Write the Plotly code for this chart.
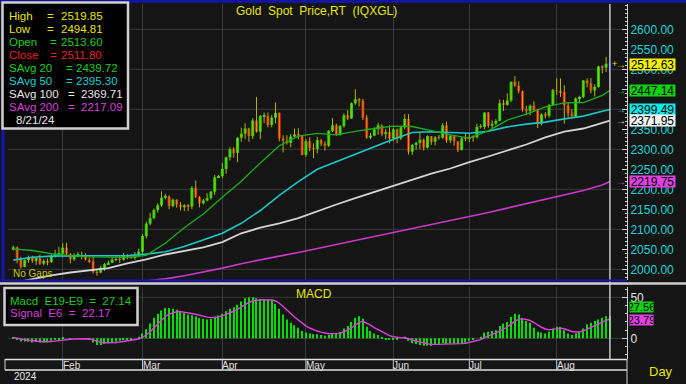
import plotly.graph_objects as go
import pandas as pd

# ---------------- data ----------------
dates = pd.bdate_range("2024-01-15", "2024-08-21").strftime("%Y-%m-%d").tolist()

opens = [2049, 2055, 2028, 2006, 2023, 2029, 2021, 2029, 2014, 2021, 2018, 2033, 2037,
         2039, 2054, 2039, 2025, 2035, 2035, 2034, 2024, 2020, 1993, 1992, 2004, 2013, 2017, 2024, 2025, 2024, 2035, 2031, 2030, 2034,
         2044, 2083, 2114, 2128, 2148, 2160, 2179, 2182, 2158, 2174, 2162, 2155, 2160, 2157, 2203, 2181, 2165, 2172, 2178, 2194, 2230,
         2233, 2251, 2280, 2300, 2291, 2329, 2339, 2352, 2333, 2372, 2344, 2383, 2383, 2361, 2379, 2391, 2327, 2322, 2316, 2332, 2337, 2335,
         2286, 2320, 2303, 2301, 2323, 2314, 2309, 2346, 2360, 2336, 2358, 2385, 2377, 2415, 2425, 2421, 2379, 2329, 2334, 2350, 2360, 2338, 2343,
         2327, 2350, 2327, 2355, 2376, 2294, 2311, 2316, 2324, 2304, 2333, 2319, 2330, 2329, 2360, 2322, 2334, 2320, 2298, 2327,
         2326, 2331, 2330, 2356, 2356, 2392, 2359, 2364, 2371, 2415, 2411, 2422, 2469, 2459, 2445, 2400, 2396, 2409, 2398, 2364, 2387, 2384, 2411,
         2448, 2446, 2443, 2410, 2390, 2382, 2427, 2431, 2472, 2465, 2447, 2456, 2507, 2504, 2513.60]
closes = [2055, 2028, 2006, 2023, 2029, 2021, 2029, 2014, 2021, 2018, 2033, 2037, 2039,
          2054, 2039, 2025, 2035, 2035, 2034, 2024, 2020, 1993, 1992, 2004, 2013, 2017, 2024, 2025, 2024, 2035, 2031, 2030, 2034, 2044,
          2083, 2114, 2128, 2148, 2160, 2179, 2182, 2158, 2174, 2162, 2155, 2160, 2157, 2203, 2181, 2165, 2172, 2178, 2194, 2230, 2233,
          2251, 2280, 2300, 2291, 2329, 2339, 2352, 2333, 2372, 2344, 2383, 2383, 2361, 2379, 2391, 2327, 2322, 2316, 2332, 2337, 2335, 2286,
          2320, 2303, 2301, 2323, 2314, 2309, 2346, 2360, 2336, 2358, 2385, 2377, 2415, 2425, 2421, 2379, 2329, 2334, 2350, 2360, 2338, 2343, 2327,
          2350, 2327, 2355, 2376, 2294, 2311, 2316, 2324, 2304, 2333, 2319, 2330, 2329, 2360, 2322, 2334, 2320, 2298, 2327, 2326,
          2331, 2330, 2356, 2356, 2392, 2359, 2364, 2371, 2415, 2411, 2422, 2469, 2459, 2445, 2400, 2396, 2409, 2398, 2364, 2387, 2384, 2411, 2448,
          2446, 2443, 2410, 2390, 2382, 2427, 2431, 2472, 2465, 2447, 2456, 2507, 2504, 2514, 2511.80]
highs = [2059, 2057, 2031, 2025, 2034, 2034, 2031, 2037, 2025, 2027, 2038, 2049, 2056,
         2065, 2066, 2040, 2040, 2043, 2044, 2040, 2029, 2031, 1999, 2009, 2016, 2022, 2031, 2033, 2034, 2041, 2038, 2038, 2043, 2052,
         2088, 2119, 2141, 2152, 2165, 2195, 2189, 2185, 2177, 2175, 2168, 2163, 2163, 2208, 2222, 2183, 2176, 2190, 2196, 2236, 2236,
         2266, 2282, 2305, 2305, 2330, 2354, 2365, 2354, 2378, 2431, 2386, 2392, 2392, 2386, 2417, 2392, 2335, 2335, 2338, 2352, 2353, 2336,
         2326, 2330, 2315, 2331, 2326, 2320, 2348, 2378, 2364, 2361, 2390, 2398, 2417, 2450, 2428, 2426, 2386, 2341, 2355, 2366, 2362, 2351, 2360,
         2354, 2352, 2358, 2388, 2388, 2313, 2319, 2342, 2327, 2335, 2333, 2333, 2336, 2366, 2369, 2336, 2336, 2320, 2331, 2340,
         2339, 2335, 2364, 2363, 2392, 2393, 2372, 2376, 2424, 2424, 2440, 2469, 2483, 2470, 2447, 2409, 2412, 2420, 2400, 2390, 2393, 2413, 2451,
         2477, 2477, 2460, 2418, 2400, 2430, 2434, 2473, 2477, 2478, 2462, 2509, 2510, 2531, 2519.85]
lows = [2047, 2015, 2002, 2005, 2016, 2016, 2011, 2011, 2010, 2010, 2016, 2030, 2034,
        2030, 2031, 2015, 2021, 2030, 2025, 2022, 2016, 1990, 1984, 1990, 1996, 2012, 2015, 2020, 2016, 2022, 2025, 2026, 2024, 2030,
        2039, 2077, 2110, 2125, 2142, 2156, 2175, 2150, 2155, 2154, 2147, 2146, 2145, 2150, 2178, 2155, 2162, 2170, 2175, 2186, 2228,
        2228, 2239, 2272, 2279, 2268, 2319, 2326, 2319, 2326, 2342, 2325, 2365, 2355, 2355, 2365, 2320, 2292, 2312, 2305, 2330, 2325, 2285,
        2281, 2295, 2278, 2290, 2308, 2297, 2306, 2343, 2333, 2334, 2354, 2373, 2376, 2411, 2407, 2373, 2326, 2325, 2333, 2336, 2333, 2325, 2315,
        2320, 2315, 2323, 2350, 2287, 2286, 2299, 2300, 2297, 2302, 2311, 2310, 2324, 2326, 2316, 2316, 2309, 2293, 2297, 2320,
        2318, 2319, 2327, 2352, 2350, 2354, 2353, 2360, 2370, 2396, 2409, 2418, 2456, 2440, 2394, 2385, 2385, 2394, 2353, 2360, 2377, 2379, 2408,
        2436, 2431, 2364, 2380, 2382, 2380, 2415, 2428, 2455, 2440, 2432, 2454, 2490, 2493, 2494.81]

# moving averages, read at sample days
ma_idx = [0, 5, 10, 15, 20, 25, 30, 35, 40, 45, 50, 55, 60, 65, 70, 75, 80, 85, 90, 95,
          100, 105, 110, 115, 120, 125, 130, 135, 140, 145, 150, 155, 157]
sma20 = [2051, 2047, 2039, 2034, 2031, 2030, 2030, 2035, 2065, 2104, 2138, 2180, 2220, 2266, 2309, 2333, 2340, 2336, 2345, 2352,
         2358, 2357, 2346, 2336, 2328, 2346, 2373, 2388, 2406, 2416, 2417, 2435, 2447.14]
sma50 = [2023, 2030, 2033, 2034, 2034, 2034, 2034, 2038, 2044, 2057, 2073, 2090, 2115, 2147, 2185, 2219, 2250, 2269, 2288, 2306,
         2325, 2342, 2344, 2342, 2340, 2345, 2356, 2363, 2368, 2376, 2383, 2395, 2399.49]
sma100 = [1966, 1976, 1985, 1992, 1998, 2003, 2015, 2025, 2037, 2046, 2055, 2068, 2090, 2104, 2115, 2128, 2146, 2162, 2178, 2193,
          2208, 2224, 2239, 2252, 2268, 2282, 2297, 2312, 2330, 2344, 2352, 2365, 2371.95]
ma200_idx = [35, 40, 45, 50, 55, 60, 65, 70, 75, 80, 85, 90, 95, 100, 105, 110, 115, 120, 125, 130, 135, 140, 145, 150, 155, 157]
sma200 = [1971, 1976, 1984, 1993, 2003, 2014, 2024, 2033, 2042, 2052, 2062, 2072, 2082, 2092, 2101, 2111, 2121, 2131, 2142, 2153,
          2164, 2175, 2186, 2197, 2211, 2219.75]

macd = [1, -1, -4, -4, -4, -5, -4, -5, -5, -5, -3, -2, -1,
        1, 0, -1, 0, 0, 0, 0, -1, -5, -8, -8, -7, -6, -5, -4, -3, -2, -2, -1, 0, 2,
        6, 11, 18, 25, 30, 34, 37, 37, 36, 35, 33, 31, 29, 28, 27, 25, 24, 23, 24, 26, 28,
        30, 33, 36, 38, 41, 45, 49, 50, 50, 49, 48, 48, 47, 46, 42, 36, 29, 23, 19, 16, 13, 9,
        7, 6, 5, 5, 4, 3, 4, 6, 6, 8, 12, 15, 20, 25, 27, 24, 14, 9, 6, 4, 1, -1, -2,
        -1, -2, 0, 2, -3, -6, -7, -8, -9, -9, -9, -8, -7, -6, -7, -6, -6, -7, -6, -5,
        -3, -2, 0, 2, 7, 8, 9, 10, 15, 18, 20, 26, 30, 29, 25, 21, 19, 13, 8, 7, 6, 8, 12,
        14, 14, 10, 6, 4, 6, 8, 12, 17, 19, 21, 23, 25, 27, 27.56]
signal = [1.0, 0.4, -0.8, -1.7, -2.4, -3.1, -3.4, -3.8, -4.2, -4.4, -4.0, -3.4, -2.7,
          -1.7, -1.2, -1.1, -0.8, -0.6, -0.4, -0.3, -0.5, -1.8, -3.6, -4.8, -5.5, -5.6, -5.4, -5.0, -4.4, -3.7, -3.2, -2.6, -1.9, -0.8,
          1.2, 4.0, 8.0, 12.9, 17.8, 22.4, 26.6, 29.5, 31.4, 32.4, 32.6, 32.1, 31.2, 30.3, 29.4, 28.1, 26.9, 25.8, 25.3, 25.5, 26.2,
          27.3, 28.9, 30.9, 33.0, 35.3, 38.0, 41.2, 43.7, 45.5, 46.5, 46.9, 47.2, 47.2, 46.8, 45.5, 42.8, 38.8, 34.3, 29.9, 26.0, 22.3, 18.5,
          15.2, 12.6, 10.4, 8.9, 7.5, 6.2, 5.6, 5.7, 5.8, 6.4, 8.0, 10.0, 12.9, 16.3, 19.4, 20.7, 18.8, 16.0, 13.1, 10.5, 7.8, 5.3, 3.2,
          2.0, 0.9, 0.6, 1.0, -0.1, -1.8, -3.3, -4.6, -5.9, -6.8, -7.4, -7.6, -7.4, -7.0, -7.0, -6.7, -6.5, -6.6, -6.4, -6.0,
          -5.1, -4.2, -3.0, -1.6, 0.9, 2.9, 4.7, 6.2, 8.7, 11.4, 13.8, 17.3, 20.9, 23.2, 23.7, 22.9, 21.8, 19.3, 16.1, 13.5, 11.4, 10.4, 10.9,
          11.8, 12.4, 11.7, 10.1, 8.3, 7.7, 7.8, 9.0, 11.3, 13.5, 15.6, 17.7, 19.8, 21.9, 23.5]

month_names = ["Feb", "Mar", "Apr", "May", "Jun", "Jul", "Aug"]
month_starts = ["2024-02-01", "2024-03-01", "2024-04-01", "2024-05-01", "2024-06-03", "2024-07-01", "2024-08-01"]
price_ticks = [2000, 2050, 2100, 2150, 2200, 2250, 2300, 2350, 2400, 2450, 2500, 2550, 2600]
price_grid = [2000, 2100, 2200, 2300, 2400, 2500, 2600]

# ---------------- style ----------------
FONT = "Liberation Sans, Arial, sans-serif"
BG = "#151515"
GRID = "#3a3a3a"
W, H = 686, 384
L, R, T, B = 8, 59, 4, 25
PW, PH = W - L - R, H - T - B


def px(p):
    return (p - L) / PW


def py(p):
    return (H - B - p) / PH


ma_dates = [dates[i] for i in ma_idx]
ma200_dates = [dates[i] for i in ma200_idx]

fig = go.Figure()

# wicks
wx, wy = [], []
for d, h, l in zip(dates[:-1], highs[:-1], lows[:-1]):
    wx += [d, d, None]
    wy += [l, h, None]
fig.add_trace(go.Scatter(x=wx, y=wy, mode="lines", line=dict(color="#b4b400", width=1),
                         hoverinfo="skip", yaxis="y"))
fig.add_trace(go.Scatter(x=[dates[-1], dates[-1]], y=[lows[-1], highs[-1]], mode="lines",
                         line=dict(color="#1818d8", width=2.5), hoverinfo="skip", yaxis="y"))

body_base = [min(o, c) for o, c in zip(opens, closes)]
body_h = [max(abs(c - o), 1.2) for o, c in zip(opens, closes)]
body_col = ["#00e000" if c >= o else "#e81818" for o, c in zip(opens, closes)]
body_col[-1] = "#1818d8"
fig.add_trace(go.Bar(x=dates, y=body_h, base=body_base, width=0.78,
                     marker=dict(color=body_col, line=dict(width=0)), yaxis="y"))

fig.add_trace(go.Scatter(x=ma200_dates, y=sma200, mode="lines", line=dict(color="#c838c8", width=1.6), yaxis="y"))
fig.add_trace(go.Scatter(x=ma_dates, y=sma100, mode="lines", line=dict(color="#d4d4d4", width=1.8), yaxis="y"))
fig.add_trace(go.Scatter(x=ma_dates, y=sma50, mode="lines", line=dict(color="#18c8c8", width=1.6), yaxis="y"))
fig.add_trace(go.Scatter(x=ma_dates, y=sma20, mode="lines", line=dict(color="#18b018", width=1.3), yaxis="y"))

# MACD panel
fig.add_trace(go.Bar(x=dates, y=macd, width=0.28, marker=dict(color="#00e000", line=dict(width=0)), yaxis="y2"))
fig.add_trace(go.Scatter(x=dates, y=signal, mode="lines", line=dict(color="#e040e0", width=1.4), yaxis="y2"))

fig.update_layout(
    width=W, height=H, margin=dict(l=L, r=R, t=T, b=B),
    paper_bgcolor=BG, plot_bgcolor=BG, showlegend=False, barmode="overlay",
    font=dict(family=FONT, size=12, color="#e0e0e0"),
    xaxis=dict(type="category", categoryorder="array", categoryarray=dates, range=[-1.4, 161.5],
               tickvals=month_starts, showticklabels=False, ticks="", showgrid=True,
               gridcolor=GRID, gridwidth=1, anchor="y2", zeroline=False, showline=False),
    yaxis=dict(domain=[py(280), 1], range=[1973.25, 2663.25], side="right", tickvals=price_ticks,
               tickformat=".2f", tickfont=dict(color="#1cd4d4", size=12, family=FONT),
               ticks="inside", ticklen=5, tickcolor="#d0d0d0", showline=True, linecolor="#d0d0d0",
               linewidth=1, showgrid=False, zeroline=False,
               minor=dict(dtick=10, ticks="inside", ticklen=2, tickcolor="#d0d0d0", showgrid=False)),
    yaxis2=dict(domain=[0, py(287)], range=[-25.2, 62.6], side="right", tickvals=[0, 50],
                tickfont=dict(color="#e0e0e0", size=12, family=FONT),
                ticks="inside", ticklen=5, tickcolor="#d0d0d0", showline=True, linecolor="#d0d0d0",
                linewidth=1, showgrid=False, zeroline=False,
                minor=dict(dtick=10, ticks="inside", ticklen=2, tickcolor="#d0d0d0", showgrid=False)),
)

shapes = []
for v in price_grid:
    shapes.append(dict(type="line", xref="paper", yref="y", x0=0, x1=1, y0=v, y1=v,
                       line=dict(color=GRID, width=1), layer="below"))
for v in [0, 50]:
    shapes.append(dict(type="line", xref="paper", yref="y2", x0=0, x1=1, y0=v, y1=v,
                       line=dict(color=GRID, width=1), layer="below"))
# cursor line at last bar
shapes.append(dict(type="line", xref="x", yref="paper", x0=dates[-1], x1=dates[-1], y0=0, y1=1,
                   line=dict(color="#c4c4c4", width=1.5)))
# frame
shapes += [
    dict(type="line", xref="paper", yref="paper", x0=px(0), x1=px(W), y0=py(1.5), y1=py(1.5),
         line=dict(color="#1414b4", width=2.5)),
    dict(type="line", xref="paper", yref="paper", x0=px(3), x1=px(3), y0=py(0), y1=py(281),
         line=dict(color="#1414b4", width=3)),
    dict(type="line", xref="paper", yref="paper", x0=px(0), x1=px(627), y0=py(280.5), y1=py(280.5),
         line=dict(color="#1414b4", width=2)),
    dict(type="line", xref="paper", yref="paper", x0=px(0), x1=px(W), y0=py(283.5), y1=py(283.5),
         line=dict(color="#cfcfcf", width=2.5)),
    dict(type="line", xref="paper", yref="paper", x0=px(5), x1=px(627), y0=py(359.5), y1=py(359.5),
         line=dict(color="#e0e0e0", width=1.5)),
    dict(type="line", xref="paper", yref="paper", x0=px(5), x1=px(627), y0=py(370), y1=py(370),
         line=dict(color="#e0e0e0", width=1.5)),
    dict(type="line", xref="paper", yref="paper", x0=px(627), x1=px(627), y0=py(359), y1=py(H),
         line=dict(color="#d0d0d0", width=1)),
    dict(type="line", xref="paper", yref="paper", x0=px(5), x1=px(5), y0=py(359), y1=py(370),
         line=dict(color="#d0d0d0", width=1)),
]
for m in month_starts:
    shapes.append(dict(type="line", xref="x", yref="paper", x0=m, x1=m, y0=py(359), y1=py(370),
                       line=dict(color="#c8c8c8", width=1)))
# legend boxes
shapes.append(dict(type="rect", xref="paper", yref="paper", x0=px(2.5), x1=px(128), y0=py(128.5), y1=py(2.5),
                   fillcolor="#000000", line=dict(color="#d0d0d0", width=2.5)))
shapes.append(dict(type="rect", xref="paper", yref="paper", x0=px(4.5), x1=px(137.5), y0=py(325), y1=py(288),
                   fillcolor="#000000", line=dict(color="#d0d0d0", width=2.5)))
fig.update_layout(shapes=shapes)


def label(text, x, y, color, size=11.5, anchor="left"):
    fig.add_annotation(xref="paper", yref="paper", x=px(x), y=py(y), text=text, showarrow=False,
                       xanchor=anchor, yanchor="middle", borderpad=0,
                       font=dict(family=FONT, size=size, color=color))


YEL, GRN, RED, CYA, WHT, MAG = "#e6e600", "#1cd01c", "#e82020", "#1cd0d0", "#e8e8e8", "#d840d8"
legend_rows = [
    ("High", "2519.85", YEL, 46, 59.5), ("Low", "2494.81", YEL, 46, 59.5),
    ("Open", "2513.60", GRN, 48.5, 59.5), ("Close", "2511.80", RED, 48.5, 60),
    ("SAvg 20", "2439.72", GRN, 64.5, 74.5), ("SAvg 50", "2395.30", CYA, 64.5, 74.5),
    ("SAvg 100", "2369.71", WHT, 67, 80), ("SAvg 200", "2217.09", MAG, 67, 80),
]
for k, (name, val, col, xe, xv) in enumerate(legend_rows):
    yy = 15.7 + 13 * k
    label(name, 8, yy, col)
    label("=", xe, yy, col)
    label(val, xv, yy, col)
label("8/21/24", 14.5, 15.7 + 13 * 8, WHT)

label("Gold\u00a0 Spot\u00a0 Price,RT\u00a0 (IQXGL)", 316, 11, YEL, size=12, anchor="center")
label("No Gaps", 12, 273, "#c8c800", size=10)
label("MACD", 314, 294, YEL, size=12, anchor="center")
label("Macd\u00a0 E19-E9\u00a0 =\u00a0 27.14", 9, 300.7, GRN)
label("Signal\u00a0 E6\u00a0 =\u00a0 22.17", 9, 313.3, MAG)
label("2024", 13, 376.5, WHT, size=10)
label("Day", 661, 371, YEL, size=13, anchor="center")

for m, name in zip(month_starts, month_names):
    fig.add_annotation(xref="x", yref="paper", x=m, y=py(365), text=name, showarrow=False,
                       xanchor="left", yanchor="middle", xshift=-1, borderpad=0,
                       font=dict(family=FONT, size=10, color="#e0e0e0"))

# value boxes on price axis
for val, txt, bg, col in [(2512.63, "2512.63", "#f0f000", YEL), (2447.14, "2447.14", "#10d010", GRN),
                          (2399.49, "2399.49", "#10e8e8", CYA), (2371.95, "2371.95", "#f4f4f4", WHT),
                          (2219.75, "2219.75", "#e040e0", MAG)]:
    fig.add_annotation(xref="paper", yref="y", x=px(629), y=val, text=txt, showarrow=False,
                       xanchor="left", yanchor="middle", bgcolor=bg, borderpad=0, width=45, height=11,
                       font=dict(family=FONT, size=12, color="#000000"))
    fig.add_annotation(xref="paper", yref="y", x=px(621), y=val, text="\u2192", showarrow=False,
                       xanchor="center", yanchor="middle", font=dict(family=FONT, size=10, color=col))
fig.add_annotation(xref="paper", yref="y", x=px(614), y=2512.63, text="+", showarrow=False,
                   xanchor="center", yanchor="middle", font=dict(family=FONT, size=9, color=YEL))

# value boxes on MACD axis
for val, shift, txt, bg in [(27.56, 9, "27.56", "#10d010"), (23.79, -1, "23.79", "#e040e0")]:
    fig.add_annotation(xref="paper", yref="y2", x=px(629), y=val, yshift=shift, text=txt, showarrow=False,
                       xanchor="left", yanchor="middle", bgcolor=bg, borderpad=0, width=23, height=10,
                       font=dict(family=FONT, size=11, color="#000000"))

fig.write_html("out.html", config={"displayModeBar": False},
               post_script="document.body.style.margin='0';document.body.style.padding='0';"
                           "document.body.style.overflow='hidden';")
